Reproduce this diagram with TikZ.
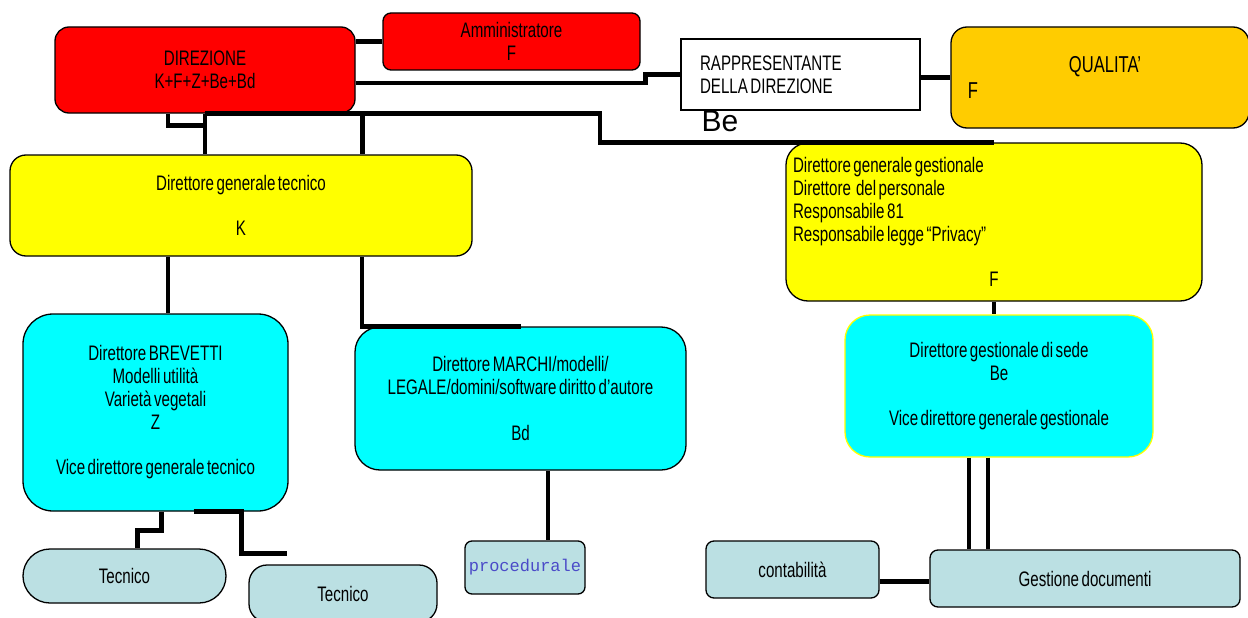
\documentclass[tikz,border=0pt]{standalone}
\usepackage{fontspec}
\setmainfont{Liberation Sans}[FakeStretch=0.72,WordSpace=0.6]
\newfontfamily\plainsans{Liberation Sans}
\newfontfamily\codefont{Liberation Mono}
\usetikzlibrary{calc}
\definecolor{dirred}{HTML}{FF0000}
\definecolor{ylw}{HTML}{FFFF00}
\definecolor{cyn}{HTML}{00FFFF}
\definecolor{qorange}{HTML}{FFCC00}
\definecolor{pale}{HTML}{BBE0E3}
\definecolor{codeblue}{HTML}{4B4BC8}
\tikzset{
  box/.style={draw=black,line width=1.3pt,rounded corners=8pt,align=center,inner sep=0pt,
    font=\fontsize{21}{22.8}\selectfont,text=black},
  redbox/.style={box,fill=dirred},
  ylwbox/.style={box,fill=ylw},
  cynbox/.style={box,fill=cyn,rounded corners=28pt},
  palebox/.style={box,fill=pale},
  conn/.style={draw=black,line width=4.5pt,line join=miter},
  lbl/.style={inner sep=0pt,font=\fontsize{21}{22.8}\selectfont}
}
\begin{document}
\begin{tikzpicture}[x=1pt,y=-1pt]
  \useasboundingbox (0,0) rectangle (1248,618);
  % top row
  \node[redbox,minimum width=300pt,minimum height=86pt,rounded corners=14pt] (dir) at (205,70) {DIREZIONE\\K+F+Z+Be+Bd};
  \node[redbox,minimum width=257pt,minimum height=57pt] (amm) at (511.5,41.5) {Amministratore\\F};
  \node[box,fill=white,rounded corners=0pt,align=left,text width=201pt,inner xsep=19pt,minimum height=71pt] (rapp) at (800.5,74.5) {\spaceskip=0pt\relax RAPPRESENTANTE\\DELLA DIREZIONE};
  \node[lbl,font=\plainsans\fontsize{30}{30}\selectfont] (be) at (720,121) {Be};
  \node[box,fill=qorange,minimum width=298pt,minimum height=101pt,rounded corners=16pt] (qual) at (1100,77.5) {};
  \node[lbl,font=\fontsize{23}{23}\selectfont] (qualt) at (1105,67) {QUALITA’};
  \node[lbl,font=\fontsize{23}{23}\selectfont] (qualf) at (973,91) {F};
  % second row
  \node[ylwbox,minimum width=462pt,minimum height=101pt,rounded corners=16pt] (gtec) at (241,205.5) {Direttore generale tecnico\\[22.8pt]K};
  \node[ylwbox,minimum width=416pt,minimum height=158pt,rounded corners=22pt,align=left,text width=402pt,inner xsep=7pt] (ggest) at (994,222)
    {\spaceskip=0pt\relax Direttore generale gestionale\\Direttore~ del personale\\Responsabile 81\\Responsabile legge “Privacy”\\[22.8pt]\hfill F\hfill\null};
  % third row
  \node[cynbox,minimum width=265pt,minimum height=197pt,rounded corners=30pt] (brev) at (155.5,412.5)
    {Direttore BREVETTI\\Modelli utilità\\Varietà vegetali\\Z\\[22.8pt]Vice direttore generale tecnico};
  \node[cynbox,minimum width=331pt,minimum height=143pt,rounded corners=25pt] (march) at (520.5,398.5)
    {Direttore MARCHI/modelli/\\LEGALE/domini/software diritto d’autore\\[22.8pt]Bd};
  \node[cynbox,draw=ylw,minimum width=308pt,minimum height=142pt,rounded corners=25pt] (gsede) at (999,386)
    {Direttore gestionale di sede\\Be\\[22.8pt]Vice direttore generale gestionale};
  % bottom row
  \node[palebox,minimum width=203pt,minimum height=54pt,rounded corners=27pt] (tec1) at (124.5,576) {Tecnico};
  \node[palebox,minimum width=188pt,minimum height=57pt,rounded corners=18pt] (tec2) at (343,593.5) {Tecnico};
  \node[palebox,minimum width=120pt,minimum height=53pt,rounded corners=7pt,font=\codefont\fontsize{17}{20}\selectfont,text=codeblue] (proc) at (525,567.5) {procedurale};
  \node[palebox,minimum width=173pt,minimum height=57pt] (cont) at (792.5,569.5) {contabilità};
  \node[palebox,minimum width=310pt,minimum height=57pt] (gdoc) at (1085,578.5) {Gestione documenti};
  % connectors
  \coordinate (k1) at ($(gtec.south)+(-73,0)$);
  \coordinate (k2) at ($(gtec.south)+(121,0)$);
  \coordinate (k3) at ($(dir.south east)+(7,0)$);
  \coordinate (s1) at ($(gsede.south)+(-30,0)$);
  \coordinate (s2) at ($(gsede.south)+(-11,0)$);
  \coordinate (c1) at ($(cont.east)+(0,12)$);
  \coordinate (m1) at ($(march.south)+(27.5,0)$);
  \coordinate (b2) at ($(brev.south)+(6,0)$);
  \coordinate (b3) at ($(tec1.north)+(13,0)$);
  \draw[conn] (amm.west) -- (amm.west -| dir.east);
  \draw[conn] (dir.east) ++(0,13) -- ++(290,0) |- (rapp.west);
  \draw[conn] (rapp.east |- qual.west) -- (qual.west);
  \draw[conn] (dir.south) -- ++(395,0) |- (ggest.north);
  \draw[conn] (dir.south) -- (dir.south |- gtec.north);
  \draw[conn] (dir.south) ++(-37,0) -- ++(0,12) -- ++(37,0);
  \draw[conn] (k3) -- (k3 |- gtec.north);
  \draw[conn] (k1) -- (k1 |- brev.north);
  \draw[conn] (k2) |- (march.north);
  \draw[conn] (ggest.south) -- (ggest.south |- gsede.north);
  \draw[conn] (s1) -- (s1 |- gdoc.north);
  \draw[conn] (s2) -- (s2 |- gdoc.north);
  \draw[conn] (c1) -- (c1 -| gdoc.west);
  \draw[conn] (m1) -- (m1 |- proc.north);
  \draw[conn] (b2) -- ++(0,19) -| (b3);
  \draw[conn] (brev.south) ++(38,0) -- ++(48,0) -- ++(0,42) -- ++(45,0);
\end{tikzpicture}
\end{document}
